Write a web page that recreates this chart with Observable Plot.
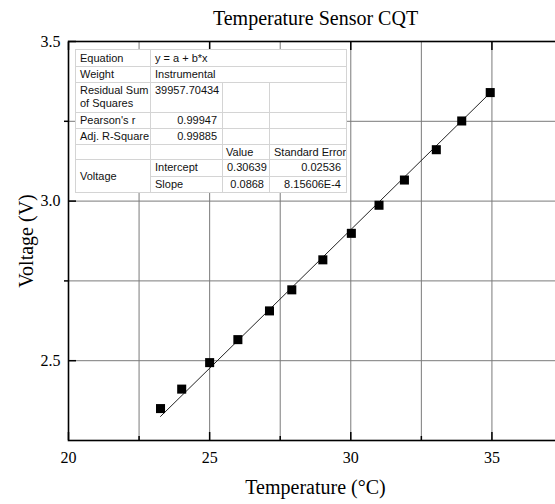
<!DOCTYPE html>
<html>
<head>
<meta charset="utf-8">
<script src="https://cdn.jsdelivr.net/npm/d3@7"></script>
<script src="https://cdn.jsdelivr.net/npm/@observablehq/plot@0.6"></script>
<style>
  html, body { margin: 0; padding: 0; background: #fff; overflow: hidden; }
  #chart { position: relative; width: 555px; height: 504px; }
  #fit {
    position: absolute; left: 75px; top: 49px;
    border-collapse: collapse; table-layout: fixed; width: 271px;
    font-family: "Liberation Sans", Arial, sans-serif; font-size: 11px; color: #111;
    background: #fff; border: 1px solid #8c8c8c;
  }
  #fit td { border: 1px solid #d4d4d4; padding: 0 4px; line-height: 13px; white-space: nowrap; vertical-align: middle; overflow: hidden; }
  #fit td.num { text-align: right; padding-right: 5px; }
  #fit td.top { vertical-align: top; padding-top: 1px; }
</style>
</head>
<body>
<div id="chart"></div>
<script>
// Calibration measurements
const temperature = [23.26, 24.01, 25.0, 26.0, 27.12, 27.91, 29.01, 30.02, 31.0, 31.9, 33.03, 33.93, 34.94];
const voltage = [2.350, 2.411, 2.494, 2.566, 2.656, 2.722, 2.816, 2.899, 2.987, 3.066, 3.161, 3.251, 3.340];

// Linear fit parameters
const intercept = 0.30639;
const slope = 0.0868;

// Axis ticks
const xMajor = [20, 25, 30, 35];
const xMinor = [22.5, 27.5, 32.5, 37.5];
const yMajor = [2.5, 3.0, 3.5];
const yMinor = [2.75, 3.25];

// Fit report table
const fitInfo = [["Equation", "y = a + b*x"], ["Weight", "Instrumental"]];
const fitStats = [["Residual Sum<br>of Squares", "39957.70434"], ["Pearson's r", "0.99947"], ["Adj. R-Square", "0.99885"]];
const paramHeader = ["Value", "Standard Error"];
const paramGroup = "Voltage";
const paramRows = [["Intercept", "0.30639", "0.02536"], ["Slope", "0.0868", "8.15606E-4"]];

const title = "Temperature Sensor CQT";
const xLabel = "Temperature (°C)";
const yLabel = "Voltage (V)";

const points = temperature.map((t, i) => ({t, v: voltage[i]}));
const tMin = d3.min(temperature), tMax = d3.max(temperature);
const fitLine = [tMin, tMax].map(t => ({t, v: intercept + slope * t}));

const serif = '"Liberation Serif", "Times New Roman", serif';
const noText = () => "";

const chart = Plot.plot({
  width: 555,
  height: 504,
  marginLeft: 68,
  marginRight: -7,
  marginTop: 41,
  marginBottom: 64,
  style: {fontFamily: serif, fontSize: "16px", color: "black", background: "white"},
  x: {domain: [20, 37.5], label: null},
  y: {domain: [2.25, 3.5], label: null},
  marks: [
    Plot.gridX([...xMajor, ...xMinor], {stroke: "#7a7a7a", strokeOpacity: 1}),
    Plot.gridY([...yMajor, ...yMinor], {stroke: "#7a7a7a", strokeOpacity: 1}),
    // tick labels
    Plot.text(xMajor, {x: d => d, text: d => String(d), frameAnchor: "bottom", lineAnchor: "middle", dy: 17, fontSize: 16, fontFamily: serif}),
    Plot.text(yMajor, {y: d => d, text: d3.format(".1f"), frameAnchor: "left", textAnchor: "end", lineAnchor: "middle", dx: -8, fontSize: 16, fontFamily: serif}),
    // inward tick marks
    Plot.axisX(xMajor, {tickSize: -8, tickFormat: noText, strokeWidth: 1.5, label: null}),
    Plot.axisX(xMinor, {tickSize: -4, tickFormat: noText, strokeWidth: 1.5, label: null}),
    Plot.axisX(xMajor, {anchor: "top", tickSize: -8, tickFormat: noText, strokeWidth: 1.5, label: null}),
    Plot.axisY(yMajor, {tickSize: -8, tickFormat: noText, strokeWidth: 1.5, label: null}),
    Plot.axisY(yMinor, {tickSize: 4, tickFormat: noText, strokeWidth: 1.5, label: null}),
    Plot.frame({stroke: "black", strokeWidth: 1.6}),
    Plot.line(fitLine, {x: "t", y: "v", stroke: "#222", strokeWidth: 1}),
    Plot.dot(points, {x: "t", y: "v", symbol: "square", r: 5.1, fill: "black", stroke: null}),
    Plot.text([title], {frameAnchor: "top", lineAnchor: "middle", dy: -23, fontSize: 20, fontFamily: serif}),
    Plot.text([xLabel], {frameAnchor: "bottom", lineAnchor: "middle", dy: 47, fontSize: 20, fontFamily: serif}),
    Plot.text([yLabel], {frameAnchor: "left", lineAnchor: "middle", textAnchor: "middle", dx: -42, rotate: -90, fontSize: 20, fontFamily: serif})
  ]
});

const host = document.getElementById("chart");
host.appendChild(chart);

// Fit report overlay
const rows = [];
rows.push(`<colgroup><col style="width:75px"><col style="width:72px"><col style="width:47px"><col style="width:77px"></colgroup>`);
fitInfo.forEach(([k, v], i) =>
  rows.push(`<tr style="height:${i === 0 ? 17 : 16}px"><td>${k}</td><td colspan="3">${v}</td></tr>`));
fitStats.forEach(([k, v], i) => {
  const multi = k.includes("<br>");
  rows.push(`<tr style="height:${multi ? 30 : 16}px"><td${multi ? ' class="top"' : ""}>${k}</td><td class="num${multi ? " top" : ""}">${v}</td><td></td><td></td></tr>`);
});
rows.push(`<tr style="height:15px"><td></td><td></td><td style="padding-left:3px">${paramHeader[0]}</td><td class="num" style="padding-right:3px">${paramHeader[1]}</td></tr>`);
paramRows.forEach(([name, val, err], i) =>
  rows.push(`<tr style="height:16.5px">${i === 0 ? `<td rowspan="${paramRows.length}">${paramGroup}</td>` : ""}<td>${name}</td><td class="num">${val}</td><td class="num">${err}</td></tr>`));
const table = document.createElement("table");
table.id = "fit";
table.innerHTML = rows.join("");
host.appendChild(table);
</script>
</body>
</html>
